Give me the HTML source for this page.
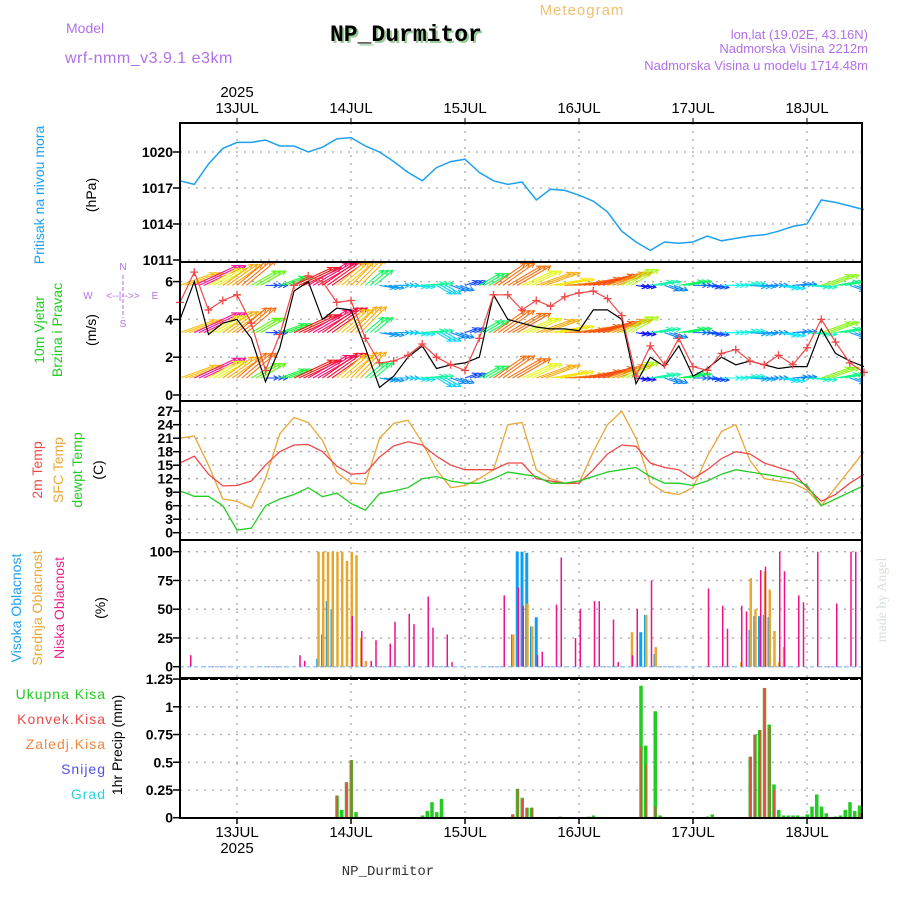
<!DOCTYPE html>
<html><head><meta charset="utf-8"><style>
body{margin:0;background:#fff}
svg{display:block;font-family:"Liberation Sans",sans-serif}
</style></head><body>
<svg id="chart" width="900" height="900" viewBox="0 0 900 900" xmlns="http://www.w3.org/2000/svg">
<rect width="900" height="900" fill="#fff"/>
<text x="582" y="15" font-size="15" fill="#f0c070" text-anchor="middle" letter-spacing="1">Meteogram</text>
<text x="66" y="33" font-size="14" fill="#b070e8">Model</text>
<text x="65" y="63" font-size="16" fill="#b070e8" letter-spacing="0.5">wrf-nmm_v3.9.1 e3km</text>
<text x="332" y="43" font-size="23" font-weight="bold" fill="#9c9" font-family="Liberation Mono, monospace">NP_Durmitor</text>
<text x="330" y="41" font-size="23" font-weight="bold" fill="#000" font-family="Liberation Mono, monospace">NP_Durmitor</text>
<text x="868" y="39" font-size="13" fill="#b070e8" text-anchor="end">lon,lat (19.02E, 43.16N)</text>
<text x="868" y="53" font-size="13" fill="#b070e8" text-anchor="end">Nadmorska Visina 2212m</text>
<text x="868" y="70" font-size="13" fill="#b070e8" text-anchor="end">Nadmorska Visina u modelu 1714.48m</text>
<g id="grid"></g>
<g id="marks"></g>
<g id="frame"></g>
<g id="labels"></g>
<text transform="translate(44,195) rotate(-90)" font-size="14" fill="#1ea0f0" text-anchor="middle">Pritisak na nivou mora</text>
<text transform="translate(96,195) rotate(-90)" font-size="14" fill="#000" text-anchor="middle">(hPa)</text>
<text transform="translate(44,330) rotate(-90)" font-size="14" fill="#22cc22" text-anchor="middle">10m Vjetar</text>
<text transform="translate(62,330) rotate(-90)" font-size="14" fill="#22cc22" text-anchor="middle">Brzina i Pravac</text>
<text transform="translate(96,330) rotate(-90)" font-size="14" fill="#000" text-anchor="middle">(m/s)</text>
<g font-size="10" fill="#b070e8" text-anchor="middle">
<text x="88" y="299">W</text><text x="155" y="299">E</text>
<text x="123" y="270">N</text><text x="123" y="327">S</text>
<text x="123" y="299">&lt;--|-->&gt;</text>
<line x1="123" y1="275" x2="123" y2="318" stroke="#b070e8" stroke-dasharray="4,2"/>
</g>
<text transform="translate(42,470) rotate(-90)" font-size="14" fill="#f04848" text-anchor="middle">2m Temp</text>
<text transform="translate(63,470) rotate(-90)" font-size="14" fill="#e8a838" text-anchor="middle">SFC Temp</text>
<text transform="translate(82,470) rotate(-90)" font-size="14" fill="#22cc22" text-anchor="middle">dewpt Temp</text>
<text transform="translate(103,470) rotate(-90)" font-size="14" fill="#000" text-anchor="middle">(C)</text>
<text transform="translate(21,608) rotate(-90)" font-size="14" fill="#1ea0f0" text-anchor="middle">Visoka Oblacnost</text>
<text transform="translate(42,608) rotate(-90)" font-size="14" fill="#e8a838" text-anchor="middle">Srednja Oblacnost</text>
<text transform="translate(64,608) rotate(-90)" font-size="14" fill="#f0208c" text-anchor="middle">Niska Oblacnost</text>
<text transform="translate(105,608) rotate(-90)" font-size="14" fill="#000" text-anchor="middle">(%)</text>
<text x="106" y="699" font-size="14" fill="#22cc22" text-anchor="end" letter-spacing="1">Ukupna Kisa</text>
<text x="106" y="724" font-size="14" fill="#f04848" text-anchor="end" letter-spacing="1">Konvek.Kisa</text>
<text x="106" y="749" font-size="14" fill="#f08840" text-anchor="end" letter-spacing="1">Zaledj.Kisa</text>
<text x="106" y="774" font-size="14" fill="#5050f0" text-anchor="end" letter-spacing="1">Snijeg</text>
<text x="106" y="799" font-size="14" fill="#30d0d8" text-anchor="end" letter-spacing="1">Grad</text>
<text transform="translate(122,745) rotate(-90)" font-size="14" fill="#000" text-anchor="middle">1hr Precip (mm)</text>
<text transform="translate(886,600) rotate(-90)" font-size="14" fill="#d8e0d8" text-anchor="middle" font-family="Liberation Serif, serif">made by Angel</text>
<text x="388" y="875" font-size="14" fill="#333" text-anchor="middle" font-family="Liberation Mono, monospace">NP_Durmitor</text>
</svg>
<script>
const dayLabels = ["13JUL","14JUL","15JUL","16JUL","17JUL","18JUL"];
const pressure = [1017.6,1017.3,1019.0,1020.3,1020.8,1020.8,1021.0,1020.5,1020.5,1020.0,1020.4,1021.1,1021.2,1020.5,1020.0,1019.2,1018.3,1017.6,1018.7,1019.2,1019.4,1018.3,1017.6,1017.3,1017.5,1016.0,1016.9,1016.8,1016.4,1015.9,1015.0,1013.4,1012.5,1011.8,1012.5,1012.4,1012.5,1013.0,1012.6,1012.8,1013.0,1013.1,1013.4,1013.8,1014.0,1016.0,1015.8,1015.5,1015.2];
const windSpeed = [4.9,6.5,4.5,5.0,5.3,3.8,1.3,3.2,5.8,6.3,6.0,4.9,5.0,3.0,1.7,1.8,2.1,2.7,2.0,1.6,1.3,3.0,5.3,5.3,4.5,5.0,4.7,5.2,5.4,5.5,5.1,4.2,1.0,2.6,1.6,3.0,1.5,1.3,2.2,2.4,1.8,1.6,2.1,1.6,2.5,4.0,2.8,1.7,1.2];
const windBlack = [4.0,6.0,3.2,3.8,4.0,3.0,0.7,2.5,5.5,6.0,4.0,4.6,4.5,2.5,0.4,1.0,2.0,2.6,1.4,1.6,1.7,2.0,5.3,4.0,3.8,3.6,3.5,3.5,3.4,4.5,4.5,4.0,0.6,2.0,1.5,2.6,1.0,1.4,2.0,1.6,1.8,1.6,1.4,1.5,1.5,3.5,2.2,1.8,1.5];
const windDir = [20,25,30,35,40,30,0,20,25,30,35,40,45,40,-10,0,-5,5,-30,-20,20,30,35,30,25,20,10,5,10,15,20,30,-10,10,-20,10,0,-10,0,5,-5,0,-10,5,-5,20,10,-20,-30];
const windRows = [0.9,3.3,5.8];
const temp2m = [15.5,17.0,13,10.4,10.5,11.5,15,18,19.5,19.6,18,14.8,13,13.2,16.8,19.3,20.2,19.5,17,15,14,14,14,15.5,15.5,12,11.5,11,11,14,17.5,19.5,19.2,15.5,14.5,14,12,14,16.5,18,17.5,15.5,14.5,13.5,10,7,8.5,11,13];
const tempSfc = [21,21.5,15,7.5,7,5.5,12,22,25.6,24.5,20.5,13.4,11,10.8,21,24.3,25,20,14,10,10.5,12,14,24,24.5,14,12,11,11,18,24,27,21,11,9,8.5,10,17,22.5,24,16,12,11.5,11,9.5,6,10,14,18];
const dewpt = [9.3,8.1,8.1,6,0.6,1.0,6,7.5,8.5,10,8,8.8,6.5,5,8.7,9.3,10,12,12.5,11.5,11,11,12,13.5,13,12.5,11,11,11.5,12.5,13.5,14,14.5,12.5,11,11,10.5,11.5,13,14,13.5,13,12.5,12,10.5,6,7.5,9,10.5];
const lowHours = [2,25,26,36,38,40,41,44,45,48,49,52,53,56,57,68,71,72,75,76,79,80,83,84,87,88,91,92,95,96,99,111,114,115,118,119,122,123,126,127,130,131,134,138,141,142];
const lowVals  = [10,10,5,44,31,5,23,20,39,46,37,61,34,28,4,62,69,53,10,13,54,95,25,50,57,57,41,4,10,50,75,68,53,33,53,48,84,87,100,83,62,56,100,55,100,100];
const midHours = [29,30,31,32,33,34,35,36,37,38,39,70,73,74,95,98,100,118,120,121,123,124,125,126,127];
const midVals  = [100,100,100,100,100,100,92,100,97,25,5,28,55,35,30,45,17,4,77,50,83,67,31,4,17];
const highHours = [29,30,31,32,70,71,72,73,74,75,97,98,100,120,121,122,123,124];
const highVals  = [7,28,57,50,28,100,100,99,35,43,30,45,11,32,44,44,45,43];
const precipHours = [33,34,35,36,37,51,52,53,54,55,70,71,72,73,74,80,86,87,97,98,100,101,111,112,120,121,122,123,124,125,126,127,128,129,130,131,132,133,134,135,136,138,139,140,141,142,143];
const precipTotal = [0.2,0.07,0.32,0.52,0.05,0.02,0.06,0.14,0.05,0.17,0.03,0.26,0.18,0.09,0.09,0.01,0.01,0.02,1.19,0.65,0.96,0.02,0.01,0.03,0.55,0.75,0.79,1.17,0.84,0.3,0.07,0.02,0.02,0.02,0.02,0.01,0.03,0.1,0.21,0.1,0.04,0.01,0.02,0.07,0.14,0.06,0.11];
const precipConv = [0.2,0,0.32,0.52,0,0,0,0,0,0,0.03,0.26,0.17,0.09,0.09,0,0,0,0.64,0.48,0.1,0,0,0,0.55,0.75,0.79,1.17,0.82,0.25,0,0,0,0,0,0,0,0,0,0,0,0,0,0,0,0,0.04];
const pTicks = [1011,1014,1017,1020];
const wTicks = [0,2,4,6];
const tTicks = [0,3,6,9,12,15,18,21,24,27];
const cTicks = [0,25,50,75,100];
const rTicks = [0,0.25,0.5,0.75,1,1.25];
const rTickLabels = ["0","0.25","0.5","0.75","1","1.25"];

const X0=180, PXH=4.75, XR=862;
const xH = h => X0 + h*PXH;
const yP = v => 152 + (1020 - v)*12;
const yW = v => 395 - v*18.9;
const yT = v => 532.7 - v*4.5;
const yC = v => 666.7 - v*1.15;
const yR = v => 817.7 - v*110.9;
const NS="http://www.w3.org/2000/svg";
function mk(parent,tag,attrs){const e=document.createElementNS(NS,tag);for(const k in attrs)e.setAttribute(k,attrs[k]);document.getElementById(parent).appendChild(e);return e;}

function hgrid(ticks,yf,labels,name,y1,y2){
  ticks.forEach((t,i)=>{
    const y=yf(t);
    if(y>y1+1&&y<y2-1){const g=mk('grid','line',{x1:X0,x2:XR,y1:y,y2:y,stroke:'#aaa','stroke-dasharray':'2,6','stroke-width':1.3});
    
    }
    const tx=mk('labels','text',{x:173,y:y+5,'font-size':14,'font-weight':'bold','text-anchor':'end',fill:'#000'});
    tx.textContent=labels?labels[i]:String(t);
    
    
    const tk=mk('frame','line',{x1:X0-7,x2:X0,y1:y,y2:y,stroke:'#000','stroke-width':1.5});
    
    
  });
}
hgrid(pTicks,yP,null,'pressure',123,262);
hgrid(wTicks,yW,null,'wind',262,401);
hgrid(tTicks,yT,null,'temp',401,540);
hgrid(cTicks,yC,null,'cloud',540,678);
hgrid(rTicks,yR,rTickLabels,'precip',678,818);

dayLabels.forEach((d,i)=>{
  const x=xH(12+24*i);
  const g=mk('grid','line',{x1:x,x2:x,y1:123,y2:818,stroke:'#aaa','stroke-dasharray':'2,6','stroke-width':1.3});
  
  
  const t1=mk('labels','text',{x:x,y:113,'font-size':15,'text-anchor':'middle',fill:'#000'});
  t1.textContent=d;
  
  
  const t2=mk('labels','text',{x:x,y:837,'font-size':15,'text-anchor':'middle',fill:'#000'});
  t2.textContent=d;
  
  
  const tk=mk('frame','line',{x1:x,x2:x,y1:118,y2:123,stroke:'#000'});
  
  
  const tk2=mk('frame','line',{x1:x,x2:x,y1:818,y2:824,stroke:'#000','stroke-width':1.5});
  
  
});
let yr=mk('labels','text',{x:xH(12),y:97,'font-size':15,'text-anchor':'middle',fill:'#000'});
yr.textContent='2025';


yr=mk('labels','text',{x:xH(12),y:853,'font-size':15,'text-anchor':'middle',fill:'#000'});
yr.textContent='2025';



[[123,262,'pressure-panel'],[262,401,'wind-panel'],[401,540,'temp-panel'],[540,678,'cloud-panel'],[678,818,'precip-panel']].forEach(p=>{
  const r=mk('frame','rect',{x:X0,y:p[0],width:XR-X0,height:p[1]-p[0],fill:'none',stroke:'#000','stroke-width':2});
  
  
});
const dl=mk('frame','line',{x1:X0,x2:XR,y1:679,y2:679,stroke:'#000','stroke-width':2,'stroke-dasharray':'8,2'});



function line(vals,yf,color,name,w){
  const pts=vals.map((v,i)=>xH(3*i).toFixed(1)+','+yf(v).toFixed(1)).join(' ');
  const l=mk('marks','polyline',{points:pts,fill:'none',stroke:color,'stroke-width':w||1.3});
  
  
}
line(pressure,yP,'#1ea0f0','pressure-line',1.5);

// wind arrows: each 3-hourly value drawn as 3 hourly arrows (same value repeated)
const clipR=mk('marks','clipPath',{id:'windclip'});
clipR.appendChild(document.createElementNS(NS,'rect'));
clipR.firstChild.setAttribute('x',X0);clipR.firstChild.setAttribute('y',263);
clipR.firstChild.setAttribute('width',XR-X0);clipR.firstChild.setAttribute('height',137);
const wg=mk('marks','g',{'clip-path':'url(#windclip)'});


windRows.forEach(row=>{
  windSpeed.forEach((s,i)=>{
    for(let k=0;k<3;k++){
      const x=xH(3*i+k), y=yW(row);
      const a=windDir[i]*Math.PI/180, L=4+s*6.5;
      const x2=x+L*Math.cos(a), y2=y-L*Math.sin(a);
      const hue=((290-s*50)%360+360)%360;
      const c='hsl('+hue+',95%,52%)';
      const ar=document.createElementNS(NS,'polyline');
      const hx1=x2-5*Math.cos(a-0.5), hy1=y2+5*Math.sin(a-0.5);
      const hx2=x2-5*Math.cos(a+0.5), hy2=y2+5*Math.sin(a+0.5);
      ar.setAttribute('points',`${x},${y} ${x2},${y2} ${hx1},${hy1} ${x2},${y2} ${hx2},${hy2}`);
      ar.setAttribute('fill','none');ar.setAttribute('stroke',c);ar.setAttribute('stroke-width','1.1');
      
      
      wg.appendChild(ar);
    }
  });
});
line(windBlack,yW,'#000','wind-gust-line',1.2);
line(windSpeed,yW,'#f04848','wind-speed-line',1.2);
windSpeed.forEach((s,i)=>{
  const x=xH(3*i),y=yW(s);
  const p=mk('marks','path',{d:`M${x-4},${y}H${x+4}M${x},${y-4}V${y+4}`,stroke:'#f04848','stroke-width':1.3});
  
  
});

line(tempSfc,yT,'#e8a838','sfc-temp-line',1.3);
line(temp2m,yT,'#f04848','temp-2m-line',1.3);
line(dewpt,yT,'#22cc22','dewpoint-line',1.3);

const cb=mk('marks','line',{x1:X0,x2:XR,y1:yC(0),y2:yC(0),stroke:'#9cf','stroke-width':1.5,'stroke-dasharray':'4,3'});


function bars(hours,vals,yf,color,off,w,name){
  hours.forEach((h,i)=>{
    const x=xH(h)+off, y=yf(vals[i]), y0=yf(0);
    if(vals[i]<=0)return;
    const r=mk('marks','rect',{x:x,y:y,width:w,height:Math.max(0.5,y0-y),fill:color});
    
    
  });
}
bars(highHours,highVals,yC,'#0aa0f5',-1.5,3,'high-cloud-bar');
bars(midHours,midVals,yC,'#e8a830',-0.5,2.5,'mid-cloud-bar');
bars(lowHours,lowVals,yC,'#f0108c',0.5,1.5,'low-cloud-bar');
bars(precipHours,precipTotal,yR,'#22cc22',-1.5,3.5,'total-precip-bar');
bars(precipHours,precipConv,yR,'#f04848',-0.5,1.8,'convective-precip-bar');
</script>
</body></html>
